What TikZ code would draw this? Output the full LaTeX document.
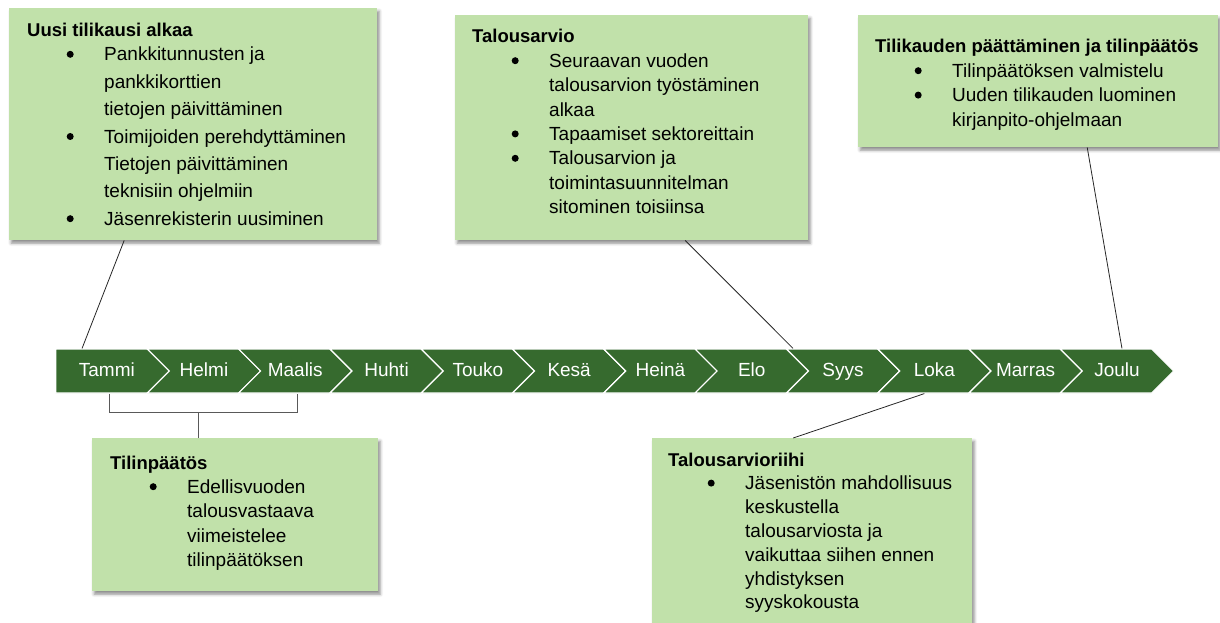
\documentclass[tikz,border=0pt]{standalone}
\usepackage{fontspec}
\setmainfont{Liberation Sans}
\usepackage{xcolor}
\usetikzlibrary{shapes.symbols, shadows.blur}
\definecolor{bandgreen}{RGB}{54,106,46}
\definecolor{boxgreen}{RGB}{193,225,170}
\newcommand{\bul}{\hspace*{39.5pt}\makebox[37.5pt][l]{\raisebox{3.2pt}{\tikz\fill[black] (0,0) circle (3.5pt);}}}
\newcommand{\ind}{\hspace*{77pt}}
\newcommand{\boxtitle}[1]{{\fontsize{18.5pt}{24pt}\selectfont\bfseries #1}}

\begin{document}
\begin{tikzpicture}[x=1pt, y=-1pt,
  month/.style={signal, signal to=east, signal from=west, signal pointer angle=90, fill=bandgreen, draw=white, line width=1.2pt, text=white, font=\fontsize{19pt}{22pt}\selectfont, text height=13.5pt, text depth=3.5pt, minimum width=113.3pt, minimum height=44pt, inner sep=0pt},
  infobox/.style={rectangle, fill=boxgreen, anchor=north west, inner sep=0pt, blur shadow={shadow xshift=2pt, shadow yshift=-3pt, shadow blur radius=3pt, shadow opacity=45}},
  boxtext/.style={anchor=base west, inner sep=0pt, font=\fontsize{19pt}{24.4pt}\selectfont},
  link/.style={draw=black!85, line width=0.8pt},
  bracket/.style={draw=black!65, line width=0.9pt}]
\useasboundingbox (0,0) rectangle (1220,623);
\clip (0,0) rectangle (1220,623);
% months
\node[month, signal from=nowhere, minimum width=124.3pt] (m1) at (106.85,371) {Tammi};
\foreach \name [count=\i from 2] in {Helmi,Maalis,Huhti,Touko,Kesä,Heinä,Elo,Syys,Loka,Marras,Joulu}
  \node[month] (m\i) at ({112.65+91.3*(\i-1)},371) {\name};
% top boxes
\node[infobox, minimum width=368pt, minimum height=232pt] (b1) at (9,8) {};
\node[boxtext, font=\fontsize{19pt}{27.4pt}\selectfont] (t1) at ([shift={(18,29)}]b1.north west) {\parbox[t]{400pt}{%
  \boxtitle{Uusi tilikausi alkaa}\\[-3.4pt]
  \bul Pankkitunnusten ja\\
  \ind pankkikorttien\\
  \ind tietojen päivittäminen\\
  \bul Toimijoiden perehdyttäminen\\
  \ind Tietojen päivittäminen\\
  \ind teknisiin ohjelmiin\\
  \bul Jäsenrekisterin uusiminen}};
\node[infobox, minimum width=353pt, minimum height=225pt] (b2) at (455,15) {};
\node[boxtext] (t2) at ([shift={(17,28)}]b2.north west) {\parbox[t]{400pt}{%
  \boxtitle{Talousarvio}\\
  \bul Seuraavan vuoden\\
  \ind talousarvion työstäminen\\
  \ind alkaa\\
  \bul Tapaamiset sektoreittain\\
  \bul Talousarvion ja\\
  \ind toimintasuunnitelman\\
  \ind sitominen toisiinsa}};
\node[infobox, minimum width=360pt, minimum height=132pt] (b3) at (858,15) {};
\node[boxtext] (t3) at ([shift={(17,38)}]b3.north west) {\parbox[t]{400pt}{%
  \boxtitle{Tilikauden päättäminen ja tilinpäätös}\\
  \bul Tilinpäätöksen valmistelu\\
  \bul Uuden tilikauden luominen\\
  \ind kirjanpito-ohjelmaan}};
% bottom boxes
\node[infobox, minimum width=286pt, minimum height=153pt] (b4) at (92,438) {};
\node[boxtext] (t4) at ([shift={(18,31)}]b4.north west) {\parbox[t]{400pt}{%
  \boxtitle{Tilinpäätös}\\
  \bul Edellisvuoden\\
  \ind talousvastaava\\
  \ind viimeistelee\\
  \ind tilinpäätöksen}};
\node[infobox, minimum width=320pt, minimum height=200pt] (b5) at (652,438) {};
\node[boxtext, font=\fontsize{19pt}{23.8pt}\selectfont] (t5) at ([shift={(16,28)}]b5.north west) {\parbox[t]{400pt}{%
  \boxtitle{Talousarvioriihi}\\
  \bul Jäsenistön mahdollisuus\\
  \ind keskustella\\
  \ind talousarviosta ja\\
  \ind vaikuttaa siihen ennen\\
  \ind yhdistyksen\\
  \ind syyskokousta}};
% connectors
\draw[link] ([xshift=-69pt]b1.south) -- ([xshift=-24.8pt]m1.north);
\draw[link] ([xshift=53.5pt]b2.south) -- ([xshift=-50pt]m9.north);
\draw[link] ([xshift=49pt]b3.south) -- ([xshift=5pt]m12.north);
\draw[link] ([xshift=-10pt]m10.south) -- ([xshift=-19pt]b5.north);
\draw[bracket] ([xshift=2.2pt]m1.south) -- ++(0,19) coordinate (brk) -| ([xshift=1.8pt]m3.south);
\draw[bracket] ([xshift=-37pt]b4.north) -- ([xshift=-37pt]b4.north |- brk);
\end{tikzpicture}
\end{document}
